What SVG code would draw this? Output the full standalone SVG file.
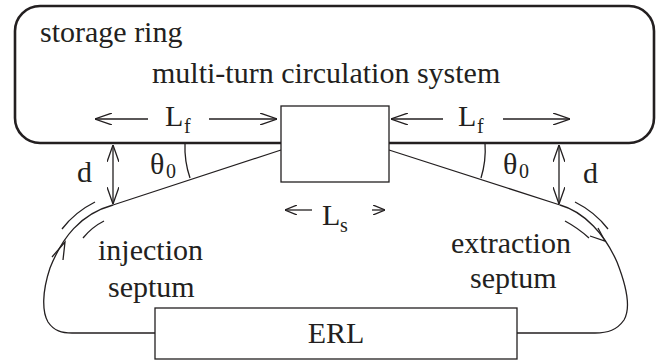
<svg xmlns="http://www.w3.org/2000/svg" width="658" height="360" viewBox="0 0 658 360">
  <style>
    .ln { fill: none; stroke: #231f20; stroke-width: 1.3; }
    .ring { fill: none; stroke: #231f20; stroke-width: 2.6; }
    .box { fill: #ffffff; stroke: #231f20; stroke-width: 1.3; }
    .t { font-family: "Liberation Serif", "Times New Roman", serif; font-size: 30px; fill: #231f20; }
    .sub { font-family: "Liberation Serif", "Times New Roman", serif; font-size: 20px; fill: #231f20; }
  </style>
  <defs>
    <marker id="head" viewBox="0 0 17 12" refX="17" refY="6" markerWidth="17" markerHeight="12" markerUnits="userSpaceOnUse" orient="auto-start-reverse">
      <path d="M0,0 L17,6 L0,12" fill="none" stroke="#231f20" stroke-width="1.3"/>
    </marker>
    <marker id="headS" viewBox="0 0 12 10" refX="12" refY="5" markerWidth="12" markerHeight="10" markerUnits="userSpaceOnUse" orient="auto-start-reverse">
      <path d="M0,0 L12,5 L0,10" fill="none" stroke="#231f20" stroke-width="1.3"/>
    </marker>
  </defs>

  <!-- storage ring -->
  <g id="ring">
    <rect class="ring" x="15" y="6" width="639" height="137" rx="25" ry="25"/>
    <text class="t" x="40" y="42">storage ring</text>
    <text class="t" x="152" y="83">multi-turn circulation system</text>
  </g>

  <!-- beam transport lines -->
  <g id="connectors">
    <!-- injection path -->
    <path class="ln" d="M281,150 L113,205 C80,214 62,238 50,268 C42,292 42,312 48,322 C54,331 62,333 72,333 L155,333"/>
    <polyline class="ln" points="52,257 65,242 63,260"/>
    <!-- extraction path -->
    <path class="ln" d="M389,150 L560,205 C585,212 605,235 617,262 C628,290 630,310 624,320 C617,330 608,333 595,333 L517,333"/>
    <polyline class="ln" points="598,228 605,241 590,236"/>

    <!-- septum magnets -->
    <path class="ln" d="M95,202 Q75,212 62,229"/>
    <path class="ln" d="M104,221 Q92,227 83,238"/>
    <path class="ln" d="M575,202 Q595,212 608,229"/>
    <path class="ln" d="M565,221 Q578,228 589,238"/>

    <!-- angle arcs -->
    <path class="ln" d="M185,143 A96,96 0 0,0 190,178"/>
    <path class="ln" d="M485,143 A96,96 0 0,1 481,178"/>

    <!-- offsets d -->
    <line class="ln" x1="113" y1="145" x2="113" y2="204" marker-start="url(#head)" marker-end="url(#head)"/>
    <line class="ln" x1="559" y1="145" x2="559" y2="204" marker-start="url(#head)" marker-end="url(#head)"/>

    <!-- lengths L_f -->
    <line class="ln" x1="148" y1="119" x2="95" y2="119" marker-end="url(#head)"/>
    <line class="ln" x1="209" y1="119" x2="277" y2="119" marker-end="url(#head)"/>
    <line class="ln" x1="443" y1="119" x2="391" y2="119" marker-end="url(#head)"/>
    <line class="ln" x1="503" y1="119" x2="570" y2="119" marker-end="url(#head)"/>

    <!-- length L_s -->
    <line class="ln" x1="312" y1="210" x2="285" y2="210" marker-end="url(#headS)"/>
    <line class="ln" x1="372" y1="210" x2="385" y2="210" marker-end="url(#headS)"/>
  </g>

  <!-- circulation system -->
  <g id="circulator">
    <rect class="box" x="281" y="106" width="108" height="76"/>
  </g>

  <!-- energy recovery linac -->
  <g id="erl">
    <rect class="box" x="155" y="308" width="362" height="51"/>
    <text class="t" x="336" y="343" text-anchor="middle">ERL</text>
  </g>

  <!-- labels -->
  <g id="labels">
    <text class="t" x="165" y="126">L</text><text class="sub" x="184" y="133">f</text>
    <text class="t" x="458" y="126">L</text><text class="sub" x="477" y="133">f</text>
    <text class="t" x="322" y="225">L</text><text class="sub" x="340" y="232">s</text>
    <text class="t" x="150" y="174">θ</text><text class="sub" x="166" y="178">0</text>
    <text class="t" x="503" y="174">θ</text><text class="sub" x="519" y="178">0</text>
    <text class="t" x="77" y="182">d</text>
    <text class="t" x="583" y="183">d</text>
    <text class="t" x="98" y="260">injection</text>
    <text class="t" x="108" y="297">septum</text>
    <text class="t" x="451" y="253">extraction</text>
    <text class="t" x="470" y="288">septum</text>
  </g>
</svg>
